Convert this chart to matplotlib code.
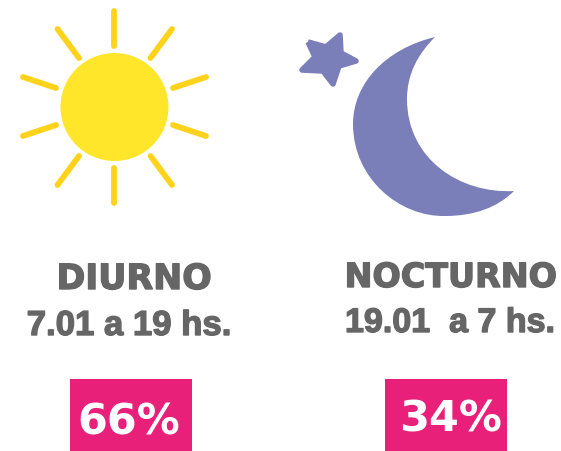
import matplotlib
matplotlib.use('Agg')
from matplotlib import pyplot as plt
from matplotlib.patches import Circle, PathPatch, Rectangle
from matplotlib.path import Path
import matplotlib.patheffects as pe

# labels and shares
titles = ['DIURNO', 'NOCTURNO']
hours = ['7.01 a 19 hs.', '19.01  a 7 hs.']
shares = [66, 34]

# icon outlines, in picture pixels
rays = [((114.5, 12), (114.5, 47)), ((114.5, 169), (114.5, 204)),
        ((57.5, 30), (79, 59)), ((172, 30), (150.5, 59)),
        ((57.5, 186), (79, 157)), ((172, 186), (150.5, 157)),
        ((23, 78), (56, 89)), ((206, 78), (173, 89)),
        ((23, 137), (56, 126)), ((206, 137), (173, 126))]

moon = [(435, 38), (385, 50), (353, 85), (353, 125),
        (353, 180), (400, 218), (445, 217),
        (475, 217), (498, 208), (514, 192),
        (460, 195), (407, 160), (407, 100),
        (407, 75), (418, 55), (435, 38)]

star = [(308, 43), (326, 48), (340, 36), (341, 54), (356, 62),
        (339, 67), (333, 85), (323, 72), (302, 71), (315, 58), (308, 43)]

fig = plt.figure(figsize=(5.61, 4.52), dpi=100)
ax = fig.add_axes([0, 0, 1, 1])
ax.set_xlim(0, 561)
ax.set_ylim(452, 0)
ax.axis('off')

for a, b in rays:
    ax.plot([a[0], b[0]], [a[1], b[1]], color='#FFD21C', lw=4.2, solid_capstyle='round')
ax.add_patch(Circle((114.5, 108), 54, color='#FFE62B', lw=0))

codes = [Path.MOVETO] + [Path.CURVE4] * (len(moon) - 1)
ax.add_patch(PathPatch(Path(moon, codes), fc='#7A7EB9', ec='none'))
ax.add_patch(PathPatch(Path(star), fc='#7A7EB9', ec='#7A7EB9', lw=4, joinstyle='round'))

grey = '#666666'
heavy = [pe.withStroke(linewidth=1.0, foreground=grey)]
ax.text(134.5, 290, titles[0], ha='center', va='baseline', fontsize=25, weight='bold', color=grey,
        family='DejaVu Sans', path_effects=heavy)
ax.text(451, 288, titles[1], ha='center', va='baseline', fontsize=24, weight='bold', color=grey,
        family='DejaVu Sans', path_effects=heavy)
ax.text(129, 336, hours[0], ha='center', va='baseline', fontsize=25, weight='bold', color=grey,
        family='Liberation Sans', path_effects=heavy)
ax.text(450, 333, hours[1], ha='center', va='baseline', fontsize=24.5, weight='bold', color=grey,
        family='Liberation Sans', path_effects=heavy)

ax.add_patch(Rectangle((70, 380), 122, 72, color='#E8207A', lw=0))
ax.add_patch(Rectangle((385, 380), 122, 72, color='#E8207A', lw=0))
ax.text(128.5, 435, f'{shares[0]}%', ha='center', va='baseline', fontsize=31, weight='bold', color='white', family='DejaVu Sans')
ax.text(451, 432, f'{shares[1]}%', ha='center', va='baseline', fontsize=31, weight='bold', color='white', family='DejaVu Sans')

fig.savefig('out.png', dpi=100)
